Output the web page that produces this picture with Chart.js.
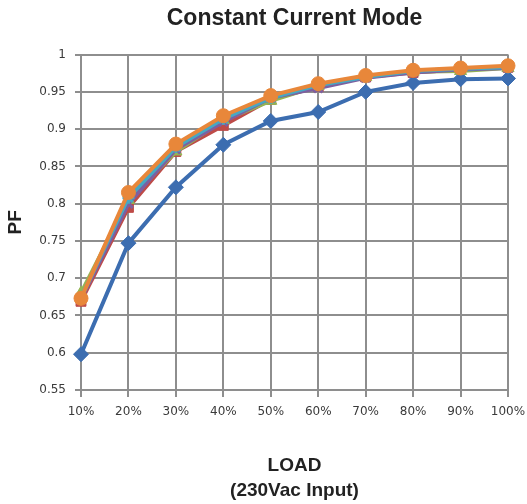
<!DOCTYPE html>
<html>
<head>
<meta charset="utf-8">
<script src="https://cdn.jsdelivr.net/npm/chart.js@4.4.0/dist/chart.umd.min.js"></script>
<style>
  html, body { margin: 0; padding: 0; background: #fff; }
  #wrap { width: 527px; height: 504px; }
</style>
</head>
<body>
<div id="wrap"><canvas id="pf"></canvas></div>
<script>
// data
var loadLabels = ["10%", "20%", "30%", "40%", "50%", "60%", "70%", "80%", "90%", "100%"];
var pfBlue   = [0.598, 0.747, 0.822, 0.879, 0.911, 0.923, 0.950, 0.962, 0.967, 0.968];
var pfRed    = [0.669, 0.795, 0.870, 0.905, 0.940, 0.957, 0.970, 0.976, 0.980, 0.983];
var pfGreen  = [0.680, 0.805, 0.870, 0.912, 0.938, 0.958, 0.970, 0.977, 0.978, 0.982];
var pfPurple = [0.672, 0.800, 0.873, 0.910, 0.942, 0.955, 0.969, 0.976, 0.980, 0.982];
var pfCyan   = [0.674, 0.808, 0.876, 0.914, 0.942, 0.959, 0.970, 0.978, 0.981, 0.983];
var pfOrange = [0.673, 0.815, 0.880, 0.918, 0.945, 0.961, 0.972, 0.979, 0.982, 0.985];

var gridGray = "#8e8e8e";
var bold = "'Liberation Sans', Arial, sans-serif";

function series(data, color, style, radius, order) {
  return {
    data: data,
    order: order,
    borderColor: color,
    backgroundColor: color,
    borderWidth: 4,
    pointStyle: style,
    pointRadius: radius,
    pointBorderWidth: style == "crossRot" || style == "star" ? 3 : 1,
    pointBackgroundColor: color,
    pointBorderColor: color,
    tension: 0
  };
}

var pfChart = new Chart("pf", {
  type: "line",
  data: {
    labels: loadLabels,
    // lower order = drawn on top, orange ends up over the rest
    datasets: [
      series(pfBlue, "#3c6db0", "rectRot", 7.5, 5),
      series(pfRed, "#be4b48", "rect", 7, 4),
      series(pfGreen, "#94b553", "triangle", 7, 3),
      series(pfPurple, "#7d5fa0", "crossRot", 6, 2),
      series(pfCyan, "#46a8c4", "star", 6, 1),
      series(pfOrange, "#e8873a", "circle", 7, 0)
    ]
  },
  options: {
    responsive: true,
    maintainAspectRatio: false,
    animation: false,
    layout: { padding: { left: 0, right: 0, top: 0, bottom: 0 } },
    plugins: {
      legend: { display: false },
      tooltip: { enabled: false },
      title: {
        display: true,
        text: "Constant Current Mode",
        fullSize: false,
        color: "#222",
        font: { family: bold, size: 23, weight: "bold", lineHeight: 1.2 },
        padding: { top: 5, bottom: 22 }
      }
    },
    scales: {
      x: {
        offset: false,
        grid: { color: gridGray, lineWidth: 2, tickLength: 7, drawTicks: true },
        border: { color: gridGray, width: 2 },
        ticks: { color: "#3a3a3a", font: { family: "'DejaVu Sans', sans-serif", size: 12 }, padding: 8, maxRotation: 0 },
        title: {
          display: true,
          text: ["LOAD", "(230Vac Input)"],
          color: "#222",
          font: { family: bold, size: 19, weight: "bold", lineHeight: 1.3 },
          padding: { top: 0, bottom: 1 }
        },
        afterFit: function(scale) { scale.height = 114; scale.paddingRight = 19; }
      },
      y: {
        min: 0.55,
        max: 1,
        grid: { color: gridGray, lineWidth: 2, tickLength: 6 },
        border: { color: gridGray, width: 2 },
        ticks: {
          stepSize: 0.05,
          color: "#3a3a3a",
          font: { family: "'DejaVu Sans', sans-serif", size: 12 },
          padding: 9,
          callback: function(v) { return Math.round(v * 100) / 100; }
        },
        title: {
          display: true,
          text: "PF",
          color: "#222",
          font: { family: bold, size: 19, weight: "bold", lineHeight: 1.2 },
          padding: { top: 4, bottom: 0 }
        },
        afterFit: function(scale) { scale.width = 81; }
      }
    }
  }
});
</script>
</body>
</html>
